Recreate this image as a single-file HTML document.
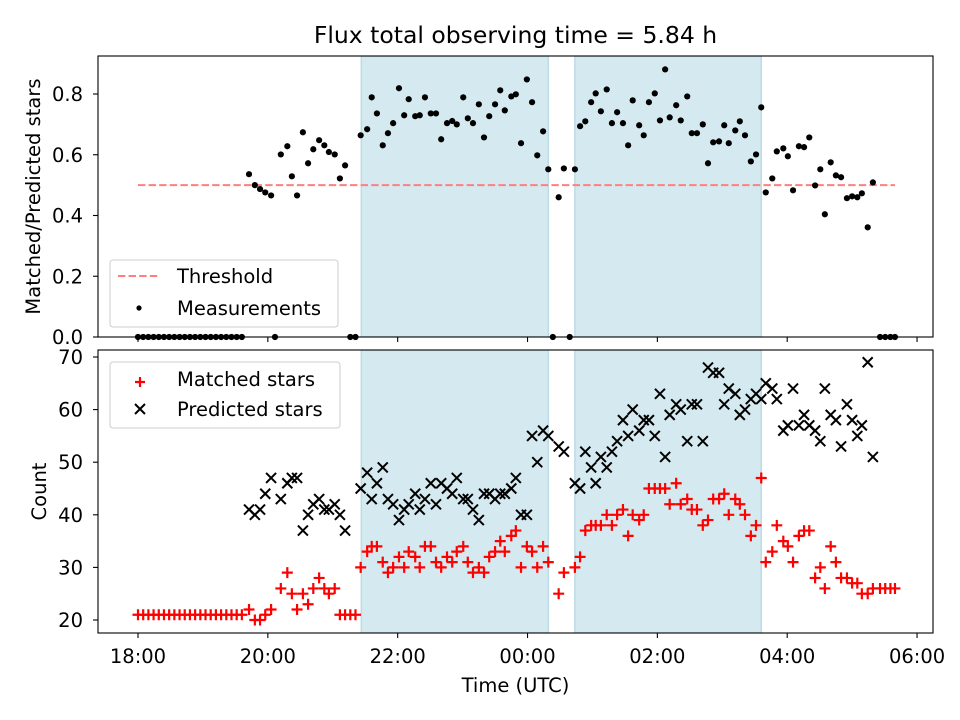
<!DOCTYPE html>
<html><head><meta charset="utf-8"><style>
body{margin:0;background:#fff;width:960px;height:720px;overflow:hidden}
svg{display:block;font-family:"DejaVu Sans","Liberation Sans",sans-serif}
</style></head><body>
<svg id="chart" width="960" height="720" viewBox="0 0 960 720" xmlns="http://www.w3.org/2000/svg"></svg>
<script>
// hours since 18:00 UTC
const times=[1.71,1.80,1.88,1.96,2.05,2.20,2.30,2.37,2.45,2.54,2.62,2.70,2.79,2.87,2.94,3.03,3.11,3.19,
3.43,3.53,3.60,3.68,3.77,3.85,3.93,4.02,4.10,4.17,4.27,4.34,4.42,4.51,4.59,4.67,4.76,4.84,4.91,5.01,5.08,5.16,5.25,5.33,5.41,5.50,5.58,5.65,5.75,5.82,5.90,5.99,6.07,6.15,6.24,6.32,
6.48,6.56,
6.73,6.81,6.89,6.98,7.05,7.13,7.22,7.30,7.38,7.47,7.55,7.62,7.72,7.79,7.87,7.96,8.04,8.12,8.19,8.29,8.36,8.46,8.53,8.61,8.70,8.78,8.86,8.95,9.03,9.10,9.20,9.27,9.35,9.44,9.52,9.60,
9.67,9.77,9.84,9.94,10.01,10.09,10.18,10.26,10.34,10.43,10.51,10.58,10.67,10.75,10.83,10.92,11.00,11.08,11.15,11.24,11.32];
const ratios=[0.536,0.50,0.487,0.476,0.466,0.601,0.628,0.529,0.466,0.674,0.572,0.618,0.648,0.631,0.609,0.601,0.522,0.565,
0.664,0.684,0.789,0.736,0.631,0.671,0.704,0.819,0.730,0.783,0.727,0.730,0.789,0.736,0.736,0.651,0.704,0.711,0.700,0.789,0.720,0.704,0.766,0.657,0.727,0.766,0.812,0.746,0.792,0.799,0.638,0.848,0.773,0.598,0.677,0.552,
0.460,0.555,
0.552,0.694,0.710,0.773,0.802,0.743,0.815,0.704,0.740,0.704,0.631,0.779,0.697,0.664,0.773,0.802,0.713,0.881,0.723,0.763,0.713,0.792,0.671,0.671,0.700,0.572,0.641,0.644,0.697,0.638,0.680,0.710,0.664,0.578,0.601,0.756,
0.476,0.522,0.611,0.621,0.595,0.483,0.628,0.625,0.657,0.499,0.552,0.404,0.575,0.532,0.526,0.457,0.463,0.460,0.473,0.361,0.509];
const predicted=[41,40,41,44,47,43,46,47,47,37,40,42,43,41,41,42,40,37,
45,48,43,46,49,43,42,39,41,42,44,41,43,46,42,46,45,44,47,43,43,41,39,44,44,43,44,44,45,47,40,40,55,50,56,55,
53,52,
46,45,52,49,46,51,49,52,54,58,55,60,56,58,58,55,63,51,59,61,60,54,61,61,54,68,67,67,61,64,63,59,60,62,63,62,
65,64,62,56,57,64,57,59,57,56,54,64,59,58,53,61,58,55,57,69,51];
const matched=[22,20,20,21,22,26,29,25,22,25,23,26,28,26,25,26,21,21,
30,33,34,34,31,29,30,32,30,33,32,30,34,34,31,30,32,31,33,34,31,29,30,29,32,33,35,33,36,37,30,34,33,30,34,31,
25,29,
30,32,37,38,38,38,40,38,40,41,36,40,39,40,45,45,45,45,42,46,42,43,41,41,38,39,43,43,44,40,43,42,40,36,38,47,
31,33,38,35,34,31,36,37,37,28,30,26,34,31,28,28,27,27,25,25,26];
const zeroTimes=[0.00,0.08,0.16,0.24,0.32,0.40,0.48,0.56,0.64,0.72,0.80,0.88,0.96,1.04,1.12,1.20,1.28,1.36,1.44,1.52,1.60,2.11,3.27,3.35,6.39,6.65,11.43,11.51,11.59,11.66];
const zeroRatios=[0,0,0,0,0,0,0,0,0,0,0,0,0,0,0,0,0,0,0,0,0,0,0,0,0,0,0,0,0,0];
const zeroMatched=[21,21,21,21,21,21,21,21,21,21,21,21,21,21,21,21,21,21,21,21,21,null,21,21,null,null,26,26,26,26];
const spans=[[3.44,6.32],[6.73,9.60]];
const threshold=0.5, thresholdRange=[0,11.66];
const xTicks=[0,2,4,6,8,10,12];
const xTickLabels=["18:00","20:00","22:00","00:00","02:00","04:00","06:00"];
const yTopTicks=[0,0.2,0.4,0.6,0.8];
const yTopLabels=["0.0","0.2","0.4","0.6","0.8"];
const yBotTicks=[20,30,40,50,60,70];

const NS="http://www.w3.org/2000/svg";
const svg=document.getElementById('chart');
const L=98,R=933,T1=56,B1=337,T2=350,B2=633;
const FS=19.5;
const x=h=>138+h*64.92;
const yT=v=>337-v*303.75;
const yB=v=>620-(v-20)*5.26;
function mk(tag,attrs,parent){const e=document.createElementNS(NS,tag);for(const k in attrs)e.setAttribute(k,attrs[k]);(parent||svg).appendChild(e);return e;}
function txt(s,attrs,parent){const e=mk('text',attrs,parent);e.textContent=s;return e;}

let t=txt("Flux total observing time = 5.84 h",{x:515.5,y:43,'font-size':23.5,'text-anchor':'middle',fill:'#000'});



function panel(T,B,name){
  const g=mk('g',{});
  
  
  const clip=mk('clipPath',{id:'c'+name},g);mk('rect',{x:L,y:T,width:R-L,height:B-T},clip);
  const spansG=mk('g',{'clip-path':'url(#c'+name+')'},g);
  spans.forEach((s,i)=>{const r=mk('rect',{x:x(s[0]),y:T,width:x(s[1])-x(s[0]),height:B-T,fill:'#d4eaf0',stroke:'#bcdbe6','stroke-width':1.5},spansG);
    
    });
  return {g,plot:mk('g',{'clip-path':'url(#c'+name+')'},g)};
}
const topP=panel(T1,B1,'ratio-panel');
let th=mk('line',{x1:x(thresholdRange[0]),x2:x(thresholdRange[1]),y1:yT(threshold),y2:yT(threshold),stroke:'#ff7f7f','stroke-width':2,'stroke-dasharray':'7.4,3.2'},topP.plot);


const mg=mk('g',{fill:'#000'},topP.g);


times.forEach((h,i)=>mk('circle',{cx:x(h),cy:yT(ratios[i]),r:3.1},mg));
zeroTimes.forEach((h,i)=>mk('circle',{cx:x(h),cy:yT(zeroRatios[i]),r:3.1},mg));

const botP=panel(T2,B2,'count-panel');
const pg=mk('g',{stroke:'#000','stroke-width':2},botP.plot);


times.forEach((h,i)=>{const cx=x(h),cy=yB(predicted[i]),d=5;mk('path',{d:`M${cx-d},${cy-d}L${cx+d},${cy+d}M${cx-d},${cy+d}L${cx+d},${cy-d}`},pg);});
const rg=mk('g',{stroke:'#ff0000','stroke-width':2.2},botP.plot);


function plus(h,v){const cx=x(h),cy=yB(v),d=5.5;mk('path',{d:`M${cx-d},${cy}L${cx+d},${cy}M${cx},${cy-d}L${cx},${cy+d}`},rg);}
times.forEach((h,i)=>plus(h,matched[i]));
zeroTimes.forEach((h,i)=>{if(zeroMatched[i]!==null)plus(h,zeroMatched[i]);});

function axes(T,B,yTicks,yLabels,yf,showX,name){
  const g=mk('g',{});
  
  
  mk('rect',{x:L,y:T,width:R-L,height:B-T,fill:'none',stroke:'#000','stroke-width':1.1},g);
  xTicks.forEach((h,i)=>{mk('line',{x1:x(h),x2:x(h),y1:B,y2:B+5,stroke:'#000','stroke-width':1.1},g);
    if(showX){const l=txt(xTickLabels[i],{x:x(h),y:B+30,'font-size':FS,'text-anchor':'middle'},g);
      
      }});
  yTicks.forEach((v,i)=>{mk('line',{x1:L-5,x2:L,y1:yf(v),y2:yf(v),stroke:'#000','stroke-width':1.1},g);
    const l=txt(yLabels[i],{x:L-15,y:yf(v)+7,'font-size':FS,'text-anchor':'end'},g);
    
    });
}
axes(T1,B1,yTopTicks,yTopLabels,yT,false,'top-axes');
axes(T2,B2,yBotTicks,yBotTicks.map(String),yB,true,'bottom-axes');
t=txt("Matched/Predicted stars",{x:0,y:0,'font-size':FS,'text-anchor':'middle',transform:`translate(40,${(T1+B1)/2}) rotate(-90)`});


t=txt("Count",{x:0,y:0,'font-size':FS,'text-anchor':'middle',transform:`translate(46,${(T2+B2)/2}) rotate(-90)`});


t=txt("Time (UTC)",{x:515.5,y:692,'font-size':FS,'text-anchor':'middle'});



let lg=mk('g',{});


mk('rect',{x:110,y:260,width:228,height:67,rx:3,fill:'#fff','fill-opacity':0.8,stroke:'#cccccc'},lg);
mk('line',{x1:118,x2:160,y1:276,y2:276,stroke:'#ff7f7f','stroke-width':2,'stroke-dasharray':'7.4,3.2'},lg);
txt("Threshold",{x:177,y:283,'font-size':FS},lg);
mk('circle',{cx:139,cy:308,r:2.6,fill:'#000'},lg);
txt("Measurements",{x:177,y:315,'font-size':FS},lg);
lg=mk('g',{});


mk('rect',{x:110,y:362,width:230,height:66,rx:3,fill:'#fff','fill-opacity':0.8,stroke:'#cccccc'},lg);
mk('path',{d:'M135,382L145,382M140,377L140,387',stroke:'#ff0000','stroke-width':2.2},lg);
txt("Matched stars",{x:177,y:386,'font-size':FS},lg);
mk('path',{d:'M135,404L145,414M135,414L145,404',stroke:'#000','stroke-width':2},lg);
txt("Predicted stars",{x:177,y:416,'font-size':FS},lg);
</script>
</body></html>
